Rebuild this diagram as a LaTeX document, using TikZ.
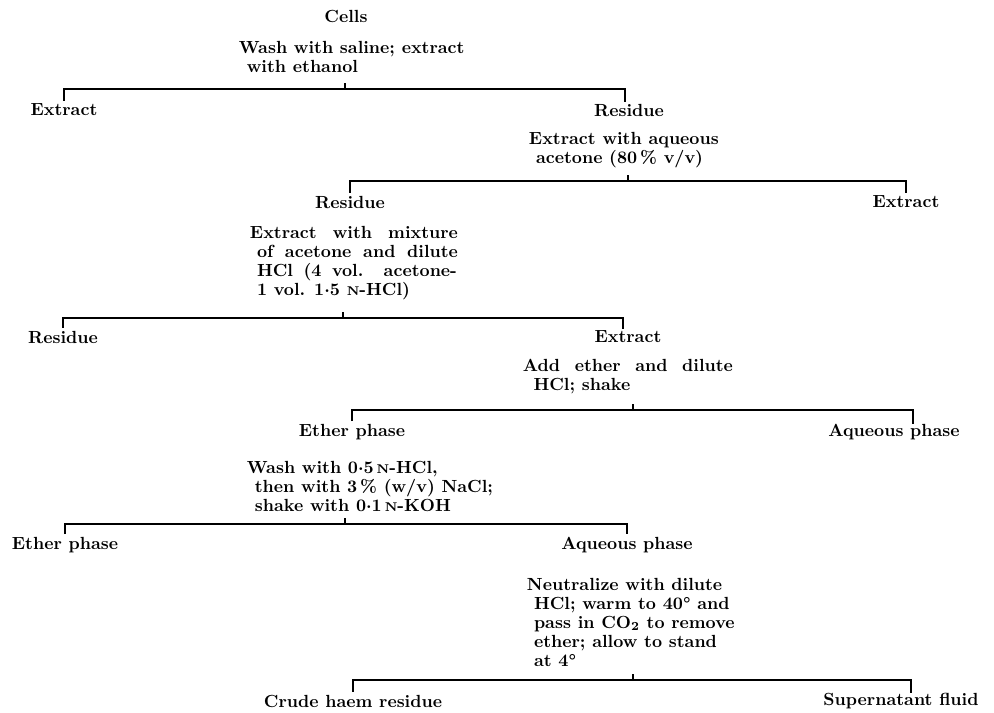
\documentclass[tikz,border=0pt]{standalone}

\newcommand{\Nsc}{{\fontsize{7.2}{8}\selectfont N}}
\newcommand{\dpt}{\raisebox{0.32ex}{.}}
\newcommand{\jl}[2]{\makebox[#1][s]{#2}}

\tikzset{
  lbl/.style={font=\fontsize{10}{10.8}\selectfont\bfseries, inner sep=1.5pt},
  stepbox/.style={lbl, align=left, anchor=north west},
  brk/.style={line width=0.85pt},
}

\begin{document}
\begin{tikzpicture}[x=0.02cm,y=-0.02cm]
  \useasboundingbox (0,0) rectangle (994,713);

  % utgangsmateriale og første trinn
  \node[lbl] (cells) at (346,16) {Cells};
  \node[stepbox] (wash1) at (236,38) {Wash with saline; extract\\\hspace{4.5pt}with ethanol};
  \node[lbl] (ex1) at (64,110) {Extract};
  \node[lbl] (res1) at (629,110) {Residue};
  \coordinate (res1leg) at (625,102);

  % aceton-ekstraksjon
  \node[stepbox] (acet2) at (526,129) {Extract with aqueous\\\hspace{4pt}acetone (80\,\% v/v)};
  \node[lbl] (res2) at (350,202) {Residue};
  \node[lbl] (ex2) at (906,202) {Extract};

  % aceton/HCl
  \node[stepbox] (mix3) at (247,223) {\jl{4.16cm}{Extract with mixture}\\
    \hspace{4pt}\jl{4.02cm}{of acetone and dilute}\\
    \hspace{4pt}\jl{4.0cm}{HCl (4 vol. acetone-}\\
    \hspace{4pt}1 vol. 1\dpt5 \Nsc-HCl)};
  \node[lbl] (res3) at (63,337) {Residue};
  \node[lbl] (ex3) at (628,337) {Extract};
  \coordinate (ex3leg) at (623,329);

  % eter
  \node[stepbox] (eth4) at (520,356) {\jl{4.2cm}{Add ether and dilute}\\\hspace{6pt}HCl; shake};
  \node[lbl] (ephase4) at (352,432) {Ether phase};
  \node[lbl] (aphase4) at (894,432) {Aqueous phase};
  \coordinate (aq4leg) at (913,424);

  % vasking av eterfasen
  \node[stepbox] (wash5) at (244,458) {Wash with 0\dpt5\,\Nsc-HCl,\\
    \hspace{4.5pt}then with 3\,\% (w/v) NaCl;\\
    \hspace{4.5pt}shake with 0\dpt1\,\Nsc-KOH};
  \node[lbl] (ephase5) at (65,545) {Ether phase};
  \node[lbl] (aphase5) at (627,545) {Aqueous phase};

  % nøytralisering
  \node[stepbox] (neut6) at (524,575) {Neutralize with dilute\\
    \hspace{4pt}HCl; warm to 40° and\\
    \hspace{4pt}pass in CO\textsubscript{2} to remove\\
    \hspace{4pt}ether; allow to stand\\
    \hspace{4pt}at 4°};
  \node[lbl] (crude6) at (353,701) {Crude haem residue};
  \node[lbl] (super6) at (901,701) {Supernatant fluid};
  \coordinate (sup6leg) at (911,693);

  % forgreiningspunkter
  \coordinate (j1) at (345,89);
  \coordinate (j2) at (628,181);
  \coordinate (j3) at (343,318);
  \coordinate (j4) at (633,410);
  \coordinate (j5) at (345,524);
  \coordinate (j6) at (633,680);

  % klammer: venstre ben, tverrstrek, høyre ben, og liten hake opp
  \foreach \j/\a/\b in {j1/ex1.north/res1leg, j2/res2.north/ex2.north,
      j3/res3.north/ex3leg, j4/ephase4.north/aq4leg,
      j5/ephase5.north/aphase5.north, j6/crude6.north/sup6leg}{
    \draw[brk] (\a) |- (\j) -| (\b);
    \draw[brk] (\j) -- ++(0,-6);
  }
\end{tikzpicture}
\end{document}
